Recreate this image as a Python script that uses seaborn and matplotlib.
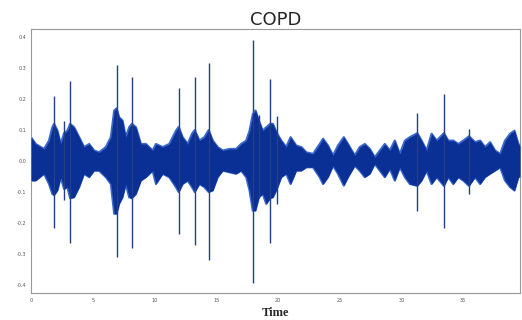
import numpy as np
import pandas as pd
import matplotlib
matplotlib.use("Agg")
import matplotlib.pyplot as plt
import seaborn as sns

sns.set_style("white")

# envelope of the recording (time in s, amplitude)
env_t = [0.00, 0.38, 1.06, 1.46, 1.73, 1.87, 2.14, 2.41, 2.68, 2.95, 3.17, 3.49, 3.90, 4.30,
         4.71, 5.11, 5.52, 6.06, 6.47, 6.74, 6.93, 7.14, 7.41, 7.68, 7.95, 8.17, 8.50, 8.90,
         9.31, 9.85, 10.12, 10.66, 11.20, 11.74, 11.96, 12.28, 12.69, 13.04, 13.26, 13.64,
         14.04, 14.39, 14.72, 15.12, 15.53, 16.07, 16.61, 17.02, 17.43, 17.70, 17.96, 18.18,
         18.45, 18.77, 19.05, 19.37, 19.59, 19.91, 20.27, 20.67, 21.02, 21.48, 21.89, 22.30,
         22.84, 23.38, 23.65, 24.05, 24.46, 24.86, 25.33, 25.67, 26.22, 26.62, 27.03, 27.44,
         27.84, 28.25, 28.65, 29.06, 29.46, 29.87, 30.28, 30.68, 31.28, 31.63, 32.04, 32.44,
         32.85, 33.44, 33.79, 34.20, 34.60, 35.01, 35.47, 35.96, 36.37, 36.77, 37.18, 37.58,
         37.99, 38.39, 38.80, 39.15, 39.47, 39.60]
env_hi = [0.077, 0.055, 0.039, 0.066, 0.109, 0.120, 0.098, 0.055, 0.090, 0.098, 0.120, 0.109,
          0.077, 0.045, 0.055, 0.034, 0.028, 0.045, 0.077, 0.163, 0.170, 0.141, 0.131, 0.077,
          0.109, 0.120, 0.109, 0.055, 0.055, 0.034, 0.055, 0.045, 0.055, 0.098, 0.110, 0.077,
          0.055, 0.088, 0.100, 0.066, 0.077, 0.100, 0.066, 0.045, 0.034, 0.039, 0.039, 0.055,
          0.066, 0.098, 0.150, 0.163, 0.131, 0.098, 0.109, 0.120, 0.120, 0.090, 0.066, 0.045,
          0.077, 0.050, 0.045, 0.028, 0.023, 0.055, 0.072, 0.050, 0.018, 0.050, 0.077, 0.055,
          0.018, 0.045, 0.055, 0.039, 0.012, 0.034, 0.055, 0.034, 0.066, 0.023, 0.066, 0.077,
          0.090, 0.066, 0.034, 0.088, 0.066, 0.090, 0.066, 0.066, 0.055, 0.066, 0.080, 0.061,
          0.066, 0.045, 0.061, 0.034, 0.023, 0.066, 0.088, 0.098, 0.055, 0.050]
env_lo = [-0.063, -0.063, -0.041, -0.074, -0.106, -0.110, -0.095, -0.052, -0.090, -0.084,
          -0.120, -0.117, -0.084, -0.041, -0.052, -0.031, -0.031, -0.052, -0.074, -0.170,
          -0.170, -0.138, -0.117, -0.074, -0.117, -0.120, -0.106, -0.063, -0.052, -0.031,
          -0.074, -0.041, -0.052, -0.084, -0.100, -0.074, -0.063, -0.084, -0.100, -0.074,
          -0.084, -0.100, -0.095, -0.052, -0.031, -0.036, -0.041, -0.031, -0.052, -0.095,
          -0.160, -0.160, -0.117, -0.106, -0.138, -0.120, -0.117, -0.090, -0.052, -0.041,
          -0.074, -0.031, -0.031, -0.020, -0.020, -0.052, -0.074, -0.052, -0.015, -0.041,
          -0.079, -0.052, -0.015, -0.031, -0.052, -0.041, -0.009, -0.031, -0.052, -0.025,
          -0.063, -0.020, -0.052, -0.074, -0.080, -0.063, -0.031, -0.074, -0.052, -0.080,
          -0.052, -0.074, -0.052, -0.063, -0.080, -0.052, -0.074, -0.052, -0.041, -0.031,
          -0.020, -0.063, -0.084, -0.095, -0.052, -0.050]

# isolated crackle spikes
spike_t = [1.87, 2.68, 3.17, 6.93, 8.17, 11.96, 13.26, 14.39, 17.96, 18.43, 19.37, 19.91,
           31.28, 33.44, 35.47]
spike_hi = [0.21, 0.13, 0.26, 0.31, 0.27, 0.235, 0.27, 0.315, 0.39, 0.15, 0.266, 0.147,
            0.155, 0.217, 0.105]
spike_lo = [-0.215, -0.127, -0.263, -0.31, -0.28, -0.235, -0.27, -0.32, -0.395, -0.12,
            -0.266, -0.14, -0.16, -0.215, -0.105]

x_ticks = [0, 5, 10, 15, 20, 25, 30, 35]
y_ticks = [-0.4, -0.3, -0.2, -0.1, 0.0, 0.1, 0.2, 0.3, 0.4]

df = pd.DataFrame({"t": env_t, "hi": env_hi, "lo": env_lo})
blue = "#0a2f95"

fig = plt.figure(figsize=(5.22, 3.2), dpi=100)
ax = fig.add_axes([0.0594, 0.0844, 0.9368, 0.8246])

# soft outer edge, then the dense core
sns.lineplot(data=df, x="t", y="hi", ax=ax, color="#3a68cc", lw=1.6)
sns.lineplot(data=df, x="t", y="lo", ax=ax, color="#3a68cc", lw=1.6)
ax.fill_between(df["t"], df["lo"], df["hi"], color=blue, lw=0, zorder=3)
ax.vlines(spike_t, spike_lo, spike_hi, color="#243f85", lw=1.0, zorder=4)

ax.set_xlim(0, 39.6)
ax.set_ylim(-0.426, 0.426)
ax.set_xticks(x_ticks)
ax.set_yticks(y_ticks)
ax.set_xticklabels([str(v) for v in x_ticks])
ax.set_yticklabels([f"{v:.1f}" for v in y_ticks])
ax.tick_params(labelsize=3.5, colors="#555555", length=2, width=0.5, pad=1.5)

for s in ax.spines.values():
    s.set_color("#999999")
    s.set_linewidth(0.8)

ax.set_title("COPD", fontsize=13, pad=3)
ax.set_xlabel("Time", fontsize=9, fontweight="bold", family="Liberation Serif", labelpad=3)
ax.set_ylabel("")

fig.savefig("out.png", dpi=100)
